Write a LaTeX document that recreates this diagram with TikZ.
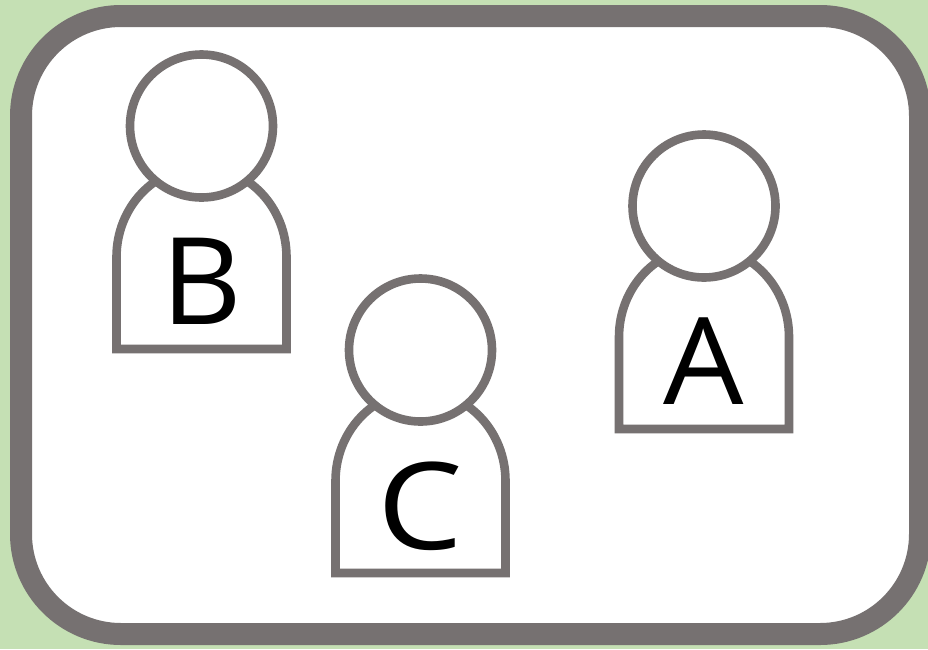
\documentclass[tikz,border=0pt]{standalone}
\usepackage{fontspec}
\setmainfont{Open Sans}
\definecolor{bggreen}{HTML}{C5E0B4}
\definecolor{framegray}{HTML}{767171}
\tikzset{
  x=1pt,y=-1pt,
  frameline/.style={draw=framegray,line width=22pt,fill=white},
  personline/.style={draw=framegray,line width=8.6pt,fill=white,miter limit=10},
  letter/.style={inner sep=0pt,outer sep=0pt,font=\fontsize{121}{121}\selectfont,text=black,anchor=base}
}
\newcommand{\person}[6]{%
  % #1 name, #2 x, #3 y of head centre, #4 letter, #5 baseline offset, #6 letter width factor
  \begin{scope}[shift={(#2,#3)}]
    \draw[personline] (-85,223) -- (-85,131) arc[start angle=180,end angle=360,x radius=85,y radius=90] -- (85,223) -- cycle;
    \node[personline,circle,minimum size=143pt,inner sep=0pt] (#1) at (0,0) {};
    \node[letter] (#1label) at (0,#5) {\scalebox{#6}[1]{#4}};
  \end{scope}}
\begin{document}
\begin{tikzpicture}
\useasboundingbox (0,0) rectangle (928,649);
\fill[bggreen] (0,0) rectangle (928,649);
\begin{scope}
\clip (0,0) rectangle (928,649);
\draw[frameline,rounded corners=100pt] (21,16) rectangle (920,634);
\end{scope}
\person{B}{201.5}{126}{B}{198}{1.03}
\person{C}{420.5}{350}{C}{199}{1.12}
\person{A}{704}{206}{A}{198}{1.05}
\end{tikzpicture}
\end{document}
